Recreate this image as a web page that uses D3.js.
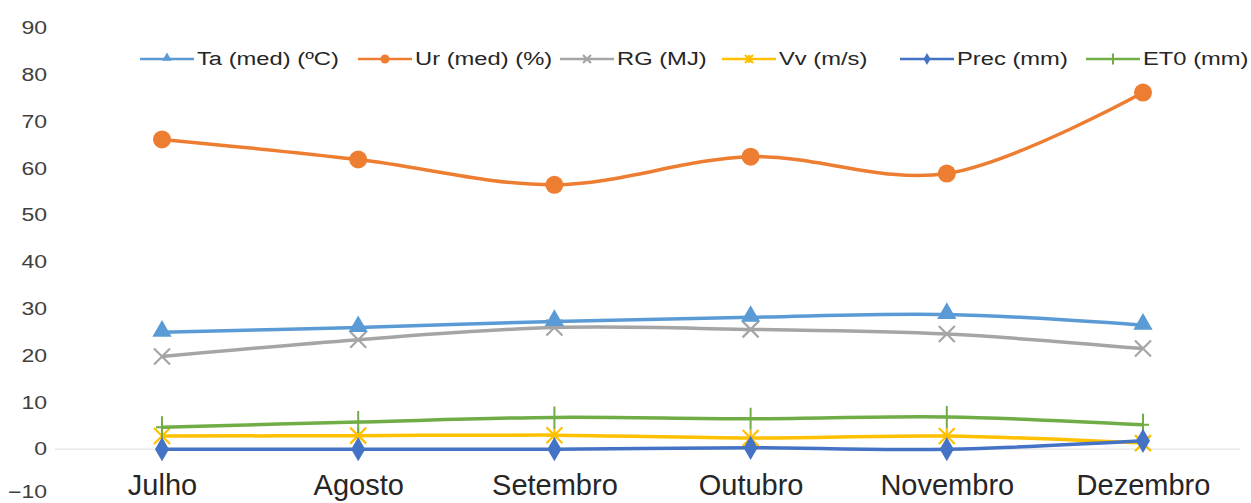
<!DOCTYPE html>
<html>
<head>
<meta charset="utf-8">
<script src="https://cdn.jsdelivr.net/npm/d3@7"></script>
<style>
  html, body { margin: 0; padding: 0; background: #fff; }
  svg { display: block; font-family: "Liberation Sans", Arial, sans-serif; }
</style>
</head>
<body>
<svg id="chart" width="1251" height="503"></svg>
<script>
// Monthly climate series
const months = ["Julho", "Agosto", "Setembro", "Outubro", "Novembro", "Dezembro"];
const ta   = [25.0, 26.0, 27.3, 28.2, 28.8, 26.5];
const ur   = [66.2, 61.9, 56.5, 62.5, 58.9, 76.2];
const rg   = [19.8, 23.4, 26.0, 25.6, 24.6, 21.5];
const vv   = [2.8, 2.9, 3.0, 2.4, 2.8, 1.3];
const prec = [0.0, 0.0, 0.0, 0.3, 0.0, 1.8];
const et0  = [4.7, 5.8, 6.8, 6.5, 6.9, 5.2];
const yTicks = [-10, 0, 10, 20, 30, 40, 50, 60, 70, 80, 90];

const seriesNames = ["Ta (med) (ºC)", "Ur (med) (%)", "RG (MJ)", "Vv (m/s)", "Prec (mm)", "ET0 (mm)"];
const seriesValues = [ta, ur, rg, vv, prec, et0];
const seriesColors = ["#5B9BD5", "#ED7D31", "#A5A5A5", "#FFC000", "#4472C4", "#70AD47"];
const seriesMarkers = ["triangle", "circle", "cross", "star", "diamond", "plus"];

const svg = d3.select("#chart");
const stretch = 1.28;       // wide lettering for tick labels
const legendStretch = 1.32; // wide lettering for legend entries

const x = d3.scalePoint().domain(months).range([162, 1143]);
const y = d3.scaleLinear().domain([-10, 90]).range([496, 28]);

// Y tick labels (no axis line)
const yAxis = d3.axisLeft(y).tickValues(yTicks).tickSize(0).tickPadding(0);
const gy = svg.append("g").attr("transform", "translate(47,0)").call(yAxis);
gy.select(".domain").remove();
gy.selectAll(".tick text")
  .attr("font-size", 18).attr("fill", "#404040")
  .attr("font-family", "Liberation Sans, Arial, sans-serif")
  .attr("x", 0)
  .attr("transform", d => d === -10 ? `translate(0,-4) scale(${stretch},1)` : `scale(${stretch},1)`);

// Horizontal category axis at zero
const xAxis = d3.axisBottom(x).tickSize(0).tickPadding(0);
const gx = svg.append("g").attr("transform", `translate(0,${y(0)})`).call(xAxis);
gx.select(".domain").remove();
gx.insert("line", ":first-child").attr("x1", 55).attr("x2", 1240).attr("y1", 0).attr("y2", 0)
  .attr("stroke", "#E4E4E4").attr("stroke-width", 1.2);
gx.selectAll(".tick text").attr("font-size", 29).attr("fill", "#262626")
  .attr("font-family", "Liberation Sans, Arial, sans-serif")
  .attr("dy", null).attr("y", 0).attr("dominant-baseline", "central")
  .attr("transform", "translate(0,36)");

function drawMarker(g, type, color, cx, cy, scale) {
  const s = scale || 1;
  if (type === "triangle") {
    g.append("path").attr("d", d3.symbol().type(d3.symbolTriangle).size(160 * s * s)())
      .attr("transform", `translate(${cx},${cy - 1})`).attr("fill", color);
  } else if (type === "circle") {
    g.append("circle").attr("cx", cx).attr("cy", cy).attr("r", 9 * s).attr("fill", color);
  } else if (type === "diamond") {
    g.append("path").attr("d", d3.symbol().type(d3.symbolDiamond).size(170 * s * s)())
      .attr("transform", `translate(${cx},${cy})`).attr("fill", color);
  } else if (type === "cross") {
    const r = 8 * s;
    g.append("path").attr("d", `M${cx - r},${cy - r}L${cx + r},${cy + r}M${cx - r},${cy + r}L${cx + r},${cy - r}`)
      .attr("stroke", color).attr("stroke-width", 2.2).attr("fill", "none");
  } else if (type === "star") {
    const r = 8 * s;
    g.append("path").attr("d", `M${cx - r},${cy - r}L${cx + r},${cy + r}M${cx - r},${cy + r}L${cx + r},${cy - r}M${cx},${cy - r}L${cx},${cy + r}`)
      .attr("stroke", color).attr("stroke-width", 2.2).attr("fill", "none");
  } else if (type === "plus") {
    const r = 11 * s;
    g.append("path").attr("d", `M${cx},${cy - r}L${cx},${cy + r}M${cx - 6 * s},${cy}L${cx + 6 * s},${cy}`)
      .attr("stroke", color).attr("stroke-width", 2).attr("fill", "none");
  }
}

const line = d3.line()
  .x((d, i) => x(months[i]))
  .y(d => y(d))
  .curve(d3.curveCatmullRom.alpha(0.5));

// Draw in reverse so the first series sits on top
const order = [3, 5, 4, 2, 1, 0];
order.forEach(k => {
  const g = svg.append("g");
  g.append("path").datum(seriesValues[k]).attr("d", line)
    .attr("fill", "none").attr("stroke", seriesColors[k]).attr("stroke-width", 3.5);
  seriesValues[k].forEach((v, i) => drawMarker(g, seriesMarkers[k], seriesColors[k], x(months[i]), y(v), 1));
});

// Legend
const legendX = [140, 358, 560, 722, 900, 1086];
const legend = svg.append("g");
seriesNames.forEach((name, k) => {
  const lx = legendX[k], ly = 59;
  legend.append("line").attr("x1", lx).attr("x2", lx + 54).attr("y1", ly).attr("y2", ly)
    .attr("stroke", seriesColors[k]).attr("stroke-width", 2.5);
  drawMarker(legend, seriesMarkers[k], seriesColors[k], lx + 27, ly, 0.5);
  legend.append("text")
    .attr("transform", `translate(${lx + 57},${ly}) scale(${legendStretch},1)`)
    .attr("dy", "0.35em")
    .attr("font-size", 18).attr("fill", "#262626").text(name);
});
</script>
</body>
</html>
